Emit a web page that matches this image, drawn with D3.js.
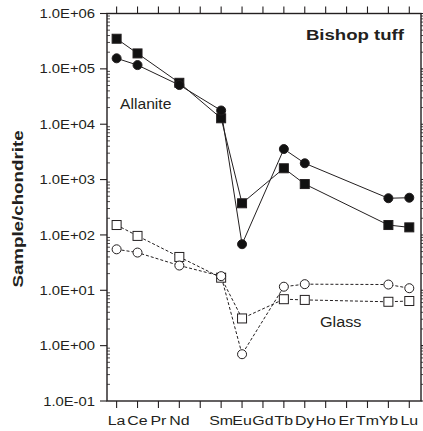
<!DOCTYPE html>
<html>
<head>
<meta charset="utf-8">
<script src="https://cdn.jsdelivr.net/npm/d3@7/dist/d3.min.js"></script>
<style>
  html, body { margin: 0; padding: 0; background: #fff; }
  svg { display: block; font-family: "Liberation Sans", Arial, sans-serif; }
</style>
</head>
<body>
<svg id="chart" width="423" height="431"></svg>
<script>
// Rare earth elements, La..Lu (Pm kept as a slot but not labelled)
const elements = ["La", "Ce", "Pr", "Nd", "Pm", "Sm", "Eu", "Gd", "Tb", "Dy", "Ho", "Er", "Tm", "Yb", "Lu"];
const elementLabels = ["La", "Ce", "Pr", "Nd", "", "Sm", "Eu", "Gd", "Tb", "Dy", "Ho", "Er", "Tm", "Yb", "Lu"];

// Chondrite-normalised abundances (null = not analysed)
const allaniteSquares = [3.5e5, 1.9e5, null, 5.6e4, null, 1.28e4, 373, null, 1600, 830, null, null, null, 151, 137];
const allaniteCircles = [1.55e5, 1.17e5, null, 5.1e4, null, 1.77e4, 68, null, 3560, 1970, null, null, null, 460, 470];
const glassSquares = [151, 96, null, 40, null, 16.9, 3.1, null, 6.9, 6.7, null, null, null, 6.2, 6.4];
const glassCircles = [55, 48, null, 28, null, 18, 0.7, null, 11.6, 12.9, null, null, null, 12.7, 10.9];

const yTickValues = [1e-1, 1e0, 1e1, 1e2, 1e3, 1e4, 1e5, 1e6];
const yTickLabels = ["1.0E-01", "1.0E+00", "1.0E+01", "1.0E+02", "1.0E+03", "1.0E+04", "1.0E+05", "1.0E+06"];

const svg = d3.select("#chart");
const plotLeft = 107, plotRight = 421, plotTop = 13.5, plotBottom = 401;
const ink = "#231f20";

const x = d3.scaleLinear().domain([-0.46, 14.56]).range([plotLeft, plotRight]);
const y = d3.scaleLog().domain([0.1, 1e6]).range([plotBottom, plotTop]);

// text drawn slightly widened along its baseline
function label(parent, px, py, str, size, opts = {}) {
  const sx = opts.sx || 1.17;
  const rot = opts.rotate ? ` rotate(${opts.rotate})` : "";
  return parent.append("text")
    .attr("transform", `translate(${px},${py})${rot} scale(${sx},1)`)
    .attr("text-anchor", opts.anchor || "start")
    .attr("font-size", size)
    .attr("font-weight", opts.bold ? "bold" : null)
    .attr("fill", ink)
    .text(str);
}

// minor log ticks
const minor = [];
for (let e = -1; e < 6; e++) for (let m = 2; m <= 9; m++) minor.push(m * Math.pow(10, e));

// left axis: major ticks outward with labels, minor ticks inward
const leftAxis = svg.append("g").attr("transform", `translate(${plotLeft},0)`);
leftAxis.selectAll("line.maj").data(yTickValues).join("line")
  .attr("x1", -7).attr("x2", 0)
  .attr("y1", d => y(d)).attr("y2", d => y(d))
  .attr("stroke", ink).attr("stroke-width", 1.1);
leftAxis.selectAll("line.min").data(minor).join("line")
  .attr("x1", 0).attr("x2", 3)
  .attr("y1", d => y(d)).attr("y2", d => y(d))
  .attr("stroke", ink).attr("stroke-width", 0.8);
yTickValues.forEach((v, i) => label(leftAxis, -12, y(v) + 4.6, yTickLabels[i], 13, { anchor: "end", sx: 1.14 }));

// right axis: ticks outward
const rightAxis = svg.append("g").attr("transform", `translate(${plotRight},0)`);
rightAxis.selectAll("line.maj").data(yTickValues).join("line")
  .attr("x1", 0).attr("x2", 7)
  .attr("y1", d => y(d)).attr("y2", d => y(d))
  .attr("stroke", ink).attr("stroke-width", 1.1);
rightAxis.selectAll("line.min").data(minor).join("line")
  .attr("x1", 0).attr("x2", 4)
  .attr("y1", d => y(d)).attr("y2", d => y(d))
  .attr("stroke", ink).attr("stroke-width", 0.8);

// bottom and top axes: element ticks outward
const idx = d3.range(elements.length);
const bottomAxis = svg.append("g").attr("transform", `translate(0,${plotBottom})`);
bottomAxis.selectAll("line").data(idx).join("line")
  .attr("x1", d => x(d)).attr("x2", d => x(d))
  .attr("y1", 0).attr("y2", 7)
  .attr("stroke", ink).attr("stroke-width", 1.1);
idx.forEach(i => label(bottomAxis, x(i), 23.5, elementLabels[i], 13.5, { anchor: "middle", sx: 1.18 }));

const topAxis = svg.append("g").attr("transform", `translate(0,${plotTop})`);
topAxis.selectAll("line").data(idx).join("line")
  .attr("x1", d => x(d)).attr("x2", d => x(d))
  .attr("y1", 0).attr("y2", -7)
  .attr("stroke", ink).attr("stroke-width", 1.1);

// frame
svg.append("rect")
  .attr("x", plotLeft).attr("y", plotTop)
  .attr("width", plotRight - plotLeft).attr("height", plotBottom - plotTop)
  .attr("fill", "none").attr("stroke", ink).attr("stroke-width", 1.4);

// series
const series = [
  { values: glassSquares, shape: "square", filled: false, dashed: true },
  { values: glassCircles, shape: "circle", filled: false, dashed: true },
  { values: allaniteSquares, shape: "square", filled: true, dashed: false },
  { values: allaniteCircles, shape: "circle", filled: true, dashed: false }
];

const line = d3.line().x(d => x(d.i)).y(d => y(d.v));

series.forEach(s => {
  const pts = s.values.map((v, i) => ({ i, v })).filter(d => d.v != null);
  svg.append("path").datum(pts)
    .attr("d", line)
    .attr("fill", "none").attr("stroke", ink).attr("stroke-width", 1)
    .attr("stroke-dasharray", s.dashed ? "3,2" : null);
});

series.forEach(s => {
  const pts = s.values.map((v, i) => ({ i, v })).filter(d => d.v != null);
  const g = svg.append("g");
  if (s.shape === "square") {
    g.selectAll("rect").data(pts).join("rect")
      .attr("x", d => x(d.i) - 4.5).attr("y", d => y(d.v) - 4.5)
      .attr("width", 9).attr("height", 9)
      .attr("fill", s.filled ? "#111" : "#fff")
      .attr("stroke", ink).attr("stroke-width", 1);
  } else {
    g.selectAll("circle").data(pts).join("circle")
      .attr("cx", d => x(d.i)).attr("cy", d => y(d.v))
      .attr("r", 4.5)
      .attr("fill", s.filled ? "#111" : "#fff")
      .attr("stroke", ink).attr("stroke-width", 1);
  }
});

// annotations
label(svg, 404, 40, "Bishop tuff", 15.5, { anchor: "end", bold: true, sx: 1.2 });
label(svg, 120, 109, "Allanite", 14, { sx: 1.12 });
label(svg, 320, 327, "Glass", 14.5, { sx: 1.12 });

// y-axis title
label(svg, 23, 209, "Sample/chondrite", 15, { anchor: "middle", bold: true, rotate: -90, sx: 1.25 });
</script>
</body>
</html>
